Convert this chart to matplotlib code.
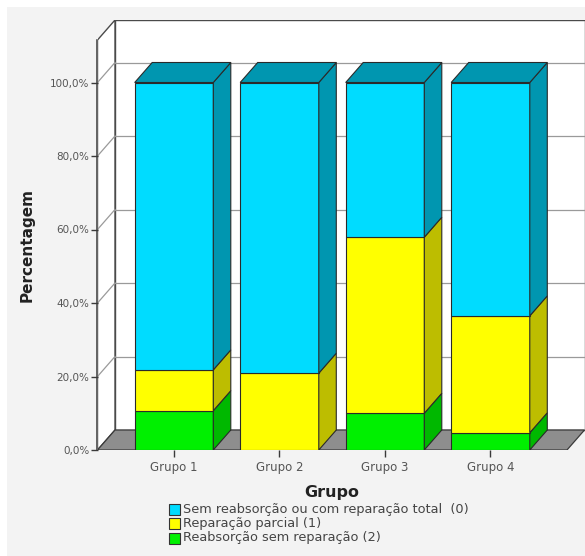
import matplotlib
matplotlib.use("Agg")
import matplotlib.pyplot as plt
from matplotlib.patches import Polygon, Rectangle

# Data: percentage of each outcome within each group
groups = ["Grupo 1", "Grupo 2", "Grupo 3", "Grupo 4"]
series_names = [
    "Sem reabsorção ou com reparação total  (0)",
    "Reparação parcial (1)",
    "Reabsorção sem reparação (2)",
]
reabsorcao_sem_reparacao = [10.7, 0.0, 10.0, 4.7]     # (2) bottom
reparacao_parcial = [11.1, 20.9, 47.9, 31.8]          # (1) middle
sem_reabsorcao = [78.2, 79.1, 42.1, 63.5]             # (0) top
y_ticks = [0, 20, 40, 60, 80, 100]
y_tick_labels = ["0,0%", "20,0%", "40,0%", "60,0%", "80,0%", "100,0%"]

# Face colours (front, side/top) per series, stacked bottom to top
stack = [
    (reabsorcao_sem_reparacao, "#00f000", "#00b800"),
    (reparacao_parcial, "#ffff00", "#bdbd00"),
    (sem_reabsorcao, "#00dcff", "#0096b0"),
]

W, H = 585, 556
fig = plt.figure(figsize=(W / 100, H / 100), dpi=100, facecolor="white")
fig.patches.append(Rectangle((7 / W, 0), 1, 1 - 7 / H, transform=fig.transFigure,
                             facecolor="#f3f3f3", edgecolor="none", zorder=-10))

# Axes placed so that y=0 is the front floor edge and x=-0.725 is the front axis line
px_per_unit = 105.5
px_per_pct = 3.675
xmin = -0.725
left_px, right_px = 97.5, 584.5
bottom_px, top_px = 450, 20
xmax = xmin + (right_px - left_px) / px_per_unit
ymax = (bottom_px - top_px) / px_per_pct
ax = fig.add_axes([left_px / W, (H - bottom_px) / H,
                   (right_px - left_px) / W, (bottom_px - top_px) / H])
ax.set_xlim(xmin, xmax)
ax.set_ylim(0, ymax)
ax.patch.set_visible(False)
for s in ax.spines.values():
    s.set_visible(False)

# Oblique depth offset
DX = 17.5 / px_per_unit
DY = 20 / px_per_pct
x_front_right = 3.725
front_top = ymax - DY

edge = "#4a4a4a"
# Back wall
ax.add_patch(Polygon([(xmin + DX, DY), (xmax, DY), (xmax, ymax), (xmin + DX, ymax)],
                     closed=True, facecolor="white", edgecolor=edge, lw=1.0, zorder=1))
# Left side wall
ax.add_patch(Polygon([(xmin, 0), (xmin + DX, DY), (xmin + DX, ymax), (xmin, front_top)],
                     closed=True, facecolor="white", edgecolor=edge, lw=1.0, zorder=1))
# Floor
ax.add_patch(Polygon([(xmin, 0), (x_front_right, 0), (xmax, DY), (xmin + DX, DY)],
                     closed=True, facecolor="#8e8e8e", edgecolor="#3a3a3a", lw=0.9, zorder=2))

# Grid lines on the back wall and side wall
for t in y_ticks[1:]:
    ax.plot([xmin + DX, xmax], [t + DY, t + DY], color="#9a9a9a", lw=0.9, zorder=1.5)
    ax.plot([xmin, xmin + DX], [t, t + DY], color="#9a9a9a", lw=0.9, zorder=1.5)

# Front axis line
ax.plot([xmin, xmin], [0, front_top], color="#3a3a3a", lw=1.1, zorder=3, clip_on=False)

# Stacked 3D bars
bar_w = 0.745
for i, g in enumerate(groups):
    x0, x1 = i - bar_w / 2, i + bar_w / 2
    base = 0.0
    top_colors = None
    for values, front_c, side_c in stack:
        v = values[i]
        if v <= 0:
            continue
        y0, y1 = base, base + v
        ax.add_patch(Polygon([(x0, y0), (x1, y0), (x1, y1), (x0, y1)], closed=True,
                             facecolor=front_c, edgecolor="#2a2a2a", lw=0.8, zorder=5))
        ax.add_patch(Polygon([(x1, y0), (x1 + DX, y0 + DY), (x1 + DX, y1 + DY), (x1, y1)],
                             closed=True, facecolor=side_c, edgecolor="#2a2a2a", lw=0.8, zorder=5))
        base = y1
        top_colors = side_c
    ax.add_patch(Polygon([(x0, base), (x1, base), (x1 + DX, base + DY), (x0 + DX, base + DY)],
                         closed=True, facecolor=top_colors, edgecolor="#2a2a2a", lw=0.8, zorder=5))

# Ticks and labels
ax.set_yticks(y_ticks)
ax.set_yticklabels(y_tick_labels)
ax.set_xticks(range(len(groups)))
ax.set_xticklabels(groups)
ax.tick_params(axis="y", length=5, width=1, color="#3a3a3a", labelsize=7.5,
               labelcolor="#555555", pad=1)
ax.tick_params(axis="x", length=5, width=1, color="#3a3a3a", labelsize=8.5,
               labelcolor="#555555", pad=3)

fig.text(27 / W, 1 - 245 / H, "Percentagem", rotation=90, ha="center", va="center",
         fontsize=11, fontweight="bold", color="#222222")
fig.text(332 / W, 1 - 493 / H, "Grupo", ha="center", va="center",
         fontsize=11.5, fontweight="bold", color="#222222")

# Legend
leg_colors = ["#00dcff", "#ffff00", "#00f000"]
for k, (name, c) in enumerate(zip(series_names, leg_colors)):
    yc = 509 + k * 14.5
    fig.patches.append(Rectangle((169 / W, 1 - (yc + 5.5) / H), 11 / W, 11 / H,
                                 transform=fig.transFigure, facecolor=c,
                                 edgecolor="#333333", lw=0.8))
    fig.text(183 / W, 1 - yc / H, name, ha="left", va="center", fontsize=9.3,
             color="#444444")

fig.savefig("out.png", dpi=100, facecolor=fig.get_facecolor())
